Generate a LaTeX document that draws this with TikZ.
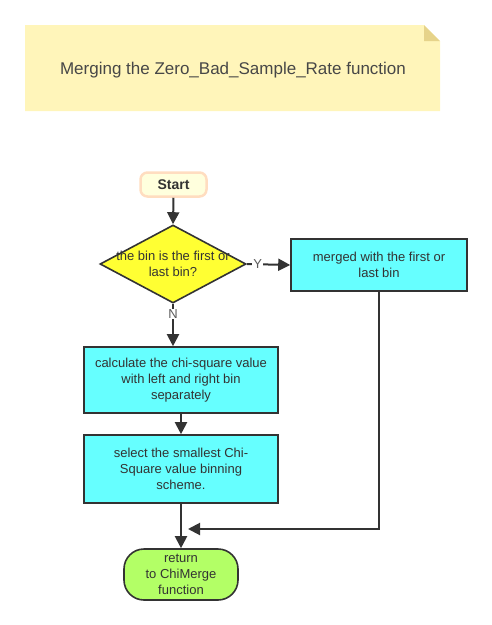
\documentclass[tikz,border=0pt]{standalone}
\usepackage{fontspec}
\setmainfont{Liberation Sans}
\usetikzlibrary{shapes.geometric,arrows.meta}
\definecolor{txt}{HTML}{333333}
\definecolor{edge}{HTML}{333333}
\definecolor{cyanfill}{HTML}{66FFFF}
\definecolor{yelfill}{HTML}{FFFF33}
\definecolor{greenfill}{HTML}{B3FF66}
\definecolor{notefill}{HTML}{FFF5BA}
\definecolor{notefold}{HTML}{E6D38A}
\definecolor{startfill}{HTML}{FFFFDD}
\definecolor{startdraw}{HTML}{FFDDC0}
\tikzset{
  procbox/.style={draw=edge, line width=1.6pt, fill=cyanfill, text=txt, align=center,
    font=\fontsize{13}{16}\selectfont, inner sep=0pt},
  conn/.style={draw=edge, line width=2pt, -{Triangle[length=12pt,width=12pt]}},
  edgelabel/.style={fill=white, text=txt!80, font=\fontsize{13}{15}\selectfont, inner sep=1pt},
}
\begin{document}
\begin{tikzpicture}[x=1pt,y=-1pt]
\useasboundingbox (0,0) rectangle (492,625);
% note
\fill[notefill] (25,25) -- (424,25) -- (440,41) -- (440,111) -- (25,111) -- cycle;
\fill[notefold] (424,25) -- (440,41) -- (424,41) -- cycle;
\node[text=txt!90, font=\fontsize{17}{20}\selectfont] (title) at (233,70) {Merging the Zero\_Bad\_Sample\_Rate function};
% start
\node[draw=startdraw, line width=2.5pt, fill=startfill, rounded corners=7pt,
  minimum width=66pt, minimum height=24pt, inner sep=0pt, text=txt,
  font=\bfseries\fontsize{14}{16}\selectfont] (start) at (173.5,184.5) {Start};
% decision
\node[diamond, draw=edge, line width=1.6pt, fill=yelfill, minimum width=146pt,
  minimum height=78pt, inner sep=0pt] (dec) at (173,264) {};
\node[text=txt, align=center, font=\fontsize{13}{16}\selectfont] (dectext) at (dec.center) {the bin is the first or\\last bin?};
% boxes
\node[procbox, minimum width=176pt, minimum height=52pt] (merged) at (379,265) {merged with the first or\\last bin};
\node[procbox, minimum width=194pt, minimum height=66pt] (calc) at (181,380) {calculate the chi-square value\\with left and right bin\\separately};
\node[procbox, minimum width=194pt, minimum height=68pt] (select) at (181,469) {select the smallest Chi-\\Square value binning\\scheme.};
\node[draw=edge, line width=1.6pt, fill=greenfill, rounded corners=20pt,
  minimum width=114pt, minimum height=51pt, inner sep=0pt, text=txt, align=center,
  font=\fontsize{13}{16}\selectfont] (ret) at (181,574.5) {return\\to ChiMerge\\function};
\coordinate (join) at (188,529);
% connectors
\draw[conn] (start.south) -- (dec.north);
\draw[conn] (dec.east) -- node[edgelabel, pos=0.25] (ylab) {Y} (merged.west);
\draw[conn] (dec.south) -- node[edgelabel, pos=0.24] (nlab) {N} (dec.south |- calc.north);
\draw[conn] (calc.south) -- (select.north);
\draw[conn] (select.south) -- (ret.north);
\draw[conn] (merged.south) |- (join);
\end{tikzpicture}
\end{document}
